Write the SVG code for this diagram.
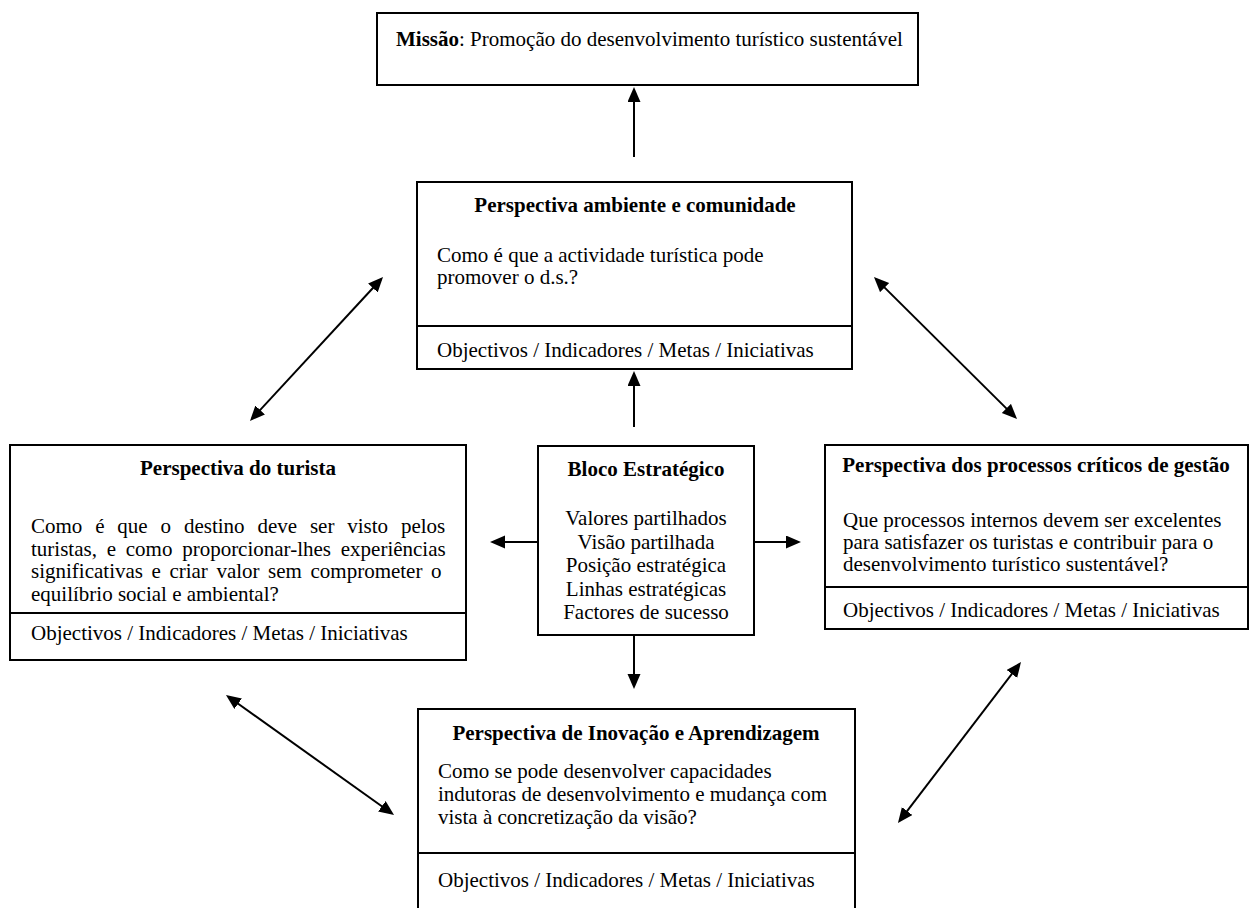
<svg xmlns="http://www.w3.org/2000/svg" width="1260" height="908" viewBox="0 0 1260 908">
<style>
.box{fill:#fff;stroke:#000;stroke-width:2}
.div{stroke:#000;stroke-width:2}
text{font-family:"Liberation Serif","Times New Roman",serif;font-size:21px;fill:#000}
.t{font-weight:bold;text-anchor:middle}
.c{text-anchor:middle}
.conn line{stroke:#000;stroke-width:2;marker-end:url(#ah)}
.conn .both{marker-start:url(#ah)}
</style>
<defs>
<marker id="ah" markerUnits="userSpaceOnUse" markerWidth="16" markerHeight="14" refX="12" refY="6.5" orient="auto-start-reverse">
<path d="M0,0 L15,6.5 L0,13 z" fill="#000"/>
</marker>
</defs>
<rect width="1260" height="908" fill="#fff"/>

<g id="missao">
<rect class="box" x="377" y="13" width="541" height="72"/>
<text x="396" y="46"><tspan font-weight="bold">Missão</tspan>: Promoção do desenvolvimento turístico sustentável</text>
</g>

<g id="ambiente">
<rect class="box" x="417" y="182" width="435" height="187"/>
<line class="div" x1="417" y1="326" x2="852" y2="326"/>
<text class="t" x="635" y="212">Perspectiva ambiente e comunidade</text>
<text x="437" y="262">Como é que a actividade turística pode</text>
<text x="437" y="284">promover o d.s.?</text>
<text x="437" y="357">Objectivos / Indicadores / Metas / Iniciativas</text>
</g>

<g id="turista">
<rect class="box" x="10" y="445" width="456" height="215"/>
<line class="div" x1="10" y1="613" x2="466" y2="613"/>
<text class="t" x="238" y="475">Perspectiva do turista</text>
<text x="31" y="533" word-spacing="7.6">Como é que o destino deve ser visto pelos</text>
<text x="31" y="555.5" word-spacing="4.5">turistas, e como proporcionar-lhes experiências</text>
<text x="31" y="578" word-spacing="3.3">significativas e criar valor sem comprometer o</text>
<text x="31" y="600.5">equilíbrio social e ambiental?</text>
<text x="31" y="640">Objectivos / Indicadores / Metas / Iniciativas</text>
</g>

<g id="bloco">
<rect class="box" x="538" y="446" width="216" height="189"/>
<text class="t" x="646" y="476">Bloco Estratégico</text>
<text class="c" x="646" y="525">Valores partilhados</text>
<text class="c" x="646" y="548.5">Visão partilhada</text>
<text class="c" x="646" y="572">Posição estratégica</text>
<text class="c" x="646" y="595.5">Linhas estratégicas</text>
<text class="c" x="646" y="619">Factores de sucesso</text>
</g>

<g id="processos">
<rect class="box" x="825" y="445" width="423" height="184"/>
<line class="div" x1="825" y1="587" x2="1248" y2="587"/>
<text class="t" x="1036" y="472">Perspectiva dos processos críticos de gestão</text>
<text x="843" y="527">Que processos internos devem ser excelentes</text>
<text x="843" y="549">para satisfazer os turistas e contribuir para o</text>
<text x="843" y="571">desenvolvimento turístico sustentável?</text>
<text x="843" y="617">Objectivos / Indicadores / Metas / Iniciativas</text>
</g>

<g id="inovacao">
<rect class="box" x="418" y="709" width="437" height="210"/>
<line class="div" x1="418" y1="853" x2="855" y2="853"/>
<text class="t" x="636" y="740">Perspectiva de Inovação e Aprendizagem</text>
<text x="438" y="778">Como se pode desenvolver capacidades</text>
<text x="438" y="801">indutoras de desenvolvimento e mudança com</text>
<text x="438" y="824">vista à concretização da visão?</text>
<text x="438" y="887">Objectivos / Indicadores / Metas / Iniciativas</text>
</g>

<g id="connectors" class="conn">
<line x1="634" y1="157" x2="634" y2="90"/>
<line x1="634" y1="427" x2="634" y2="374"/>
<line x1="634" y1="636" x2="634" y2="686"/>
<line x1="538" y1="542" x2="493" y2="542"/>
<line x1="754" y1="542" x2="798" y2="542"/>
<line class="both" x1="252" y1="418.8" x2="381" y2="279.2"/>
<line class="both" x1="876.1" y1="279.1" x2="1014.9" y2="416.9"/>
<line class="both" x1="228.4" y1="696.7" x2="391.6" y2="813.3"/>
<line class="both" x1="1019.2" y1="664.4" x2="899.8" y2="820.6"/>
</g>
</svg>
